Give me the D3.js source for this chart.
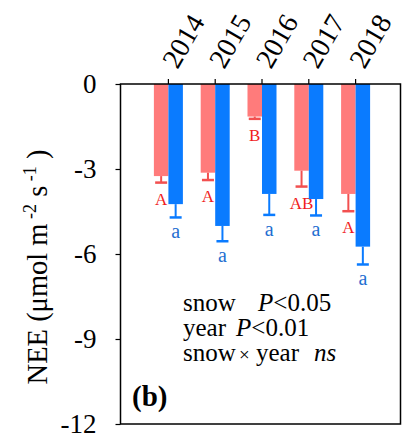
<!DOCTYPE html>
<html>
<head>
<meta charset="utf-8">
<script src="https://cdn.jsdelivr.net/npm/d3@7"></script>
<style>
  body { margin: 0; background: #fff; }
  text { font-family: "Liberation Serif", "Times New Roman", serif; }
</style>
</head>
<body>
<svg id="chart"></svg>
<script>
// data
const years = ["2014", "2015", "2016", "2017", "2018"];
const snowMean = [-3.25, -3.13, -1.15, -3.06, -3.88];
const snowErr = [0.23, 0.26, 0.08, 0.56, 0.61];
const ctrlMean = [-4.24, -5.01, -3.88, -4.06, -5.74];
const ctrlErr = [0.47, 0.54, 0.74, 0.58, 0.63];
const snowLetters = ["A", "A", "B", "AB", "A"];
const ctrlLetters = ["a", "a", "a", "a", "a"];
const yTicks = [0, -3, -6, -9, -12];

const W = 402, H = 438;
const pLeft = 120.5, pRight = 400.5, pTop = 84, pBottom = 424;

const svg = d3.select("#chart").attr("width", W).attr("height", H);

const x = d3.scaleBand().domain(years).range([145, 379]).padding(0);
const y = d3.scaleLinear().domain([-12, 0]).range([pBottom, pTop]);
const barW = 14.5;
const cx = d => x(d) + x.bandwidth() / 2;

// bars
const g = svg.append("g");
years.forEach((yr, i) => {
  const c = cx(yr);
  // snow (red)
  g.append("rect")
    .attr("x", c - barW).attr("width", barW)
    .attr("y", y(0)).attr("height", y(snowMean[i]) - y(0))
    .attr("fill", "#ff7b7b");
  g.append("line")
    .attr("x1", c - barW / 2).attr("x2", c - barW / 2)
    .attr("y1", y(snowMean[i])).attr("y2", y(snowMean[i] - snowErr[i]))
    .attr("stroke", "#f25050").attr("stroke-width", 2);
  g.append("line")
    .attr("x1", c - barW / 2 - 6).attr("x2", c - barW / 2 + 6)
    .attr("y1", y(snowMean[i] - snowErr[i])).attr("y2", y(snowMean[i] - snowErr[i]))
    .attr("stroke", "#f25050").attr("stroke-width", 2.5);
  g.append("text")
    .attr("x", c - barW / 2).attr("y", y(snowMean[i] - snowErr[i]) + 22)
    .attr("text-anchor", "middle").attr("font-size", 17)
    .attr("fill", "#f01c1c").text(snowLetters[i]);

  // control (blue)
  g.append("rect")
    .attr("x", c).attr("width", barW)
    .attr("y", y(0)).attr("height", y(ctrlMean[i]) - y(0))
    .attr("fill", "#0a7bff");
  g.append("line")
    .attr("x1", c + barW / 2).attr("x2", c + barW / 2)
    .attr("y1", y(ctrlMean[i])).attr("y2", y(ctrlMean[i] - ctrlErr[i]))
    .attr("stroke", "#0a7bff").attr("stroke-width", 2);
  g.append("line")
    .attr("x1", c + barW / 2 - 6).attr("x2", c + barW / 2 + 6)
    .attr("y1", y(ctrlMean[i] - ctrlErr[i])).attr("y2", y(ctrlMean[i] - ctrlErr[i]))
    .attr("stroke", "#0a7bff").attr("stroke-width", 2.5);
  g.append("text")
    .attr("x", c + barW / 2).attr("y", y(ctrlMean[i] - ctrlErr[i]) + 21)
    .attr("text-anchor", "middle").attr("font-size", 20)
    .attr("fill", "#1f6fd1").text(ctrlLetters[i]);
});

// frame
svg.append("rect")
  .attr("x", pLeft).attr("y", pTop)
  .attr("width", pRight - pLeft).attr("height", pBottom - pTop)
  .attr("fill", "none").attr("stroke", "#000").attr("stroke-width", 1.5);

// y axis
const yAxis = svg.append("g")
  .attr("transform", `translate(${pLeft},0)`)
  .call(d3.axisLeft(y).tickValues(yTicks).tickSize(5).tickPadding(19));
yAxis.select(".domain").remove();
yAxis.selectAll("line").attr("stroke-width", 1.2);
yAxis.selectAll("text")
  .attr("font-size", 27).attr("font-family", "Liberation Serif").attr("fill", "#000")
  .text(d => d === 0 ? "0" : "-" + Math.abs(d));

// x axis at top (ticks only, labels drawn rotated below)
const xAxis = svg.append("g")
  .attr("transform", `translate(0,${pTop})`)
  .call(d3.axisTop(x).tickSize(5).tickSizeOuter(0).tickFormat(""));
xAxis.select(".domain").remove();
xAxis.selectAll("line").attr("stroke-width", 1.2);

svg.append("g").selectAll("text")
  .data(years)
  .join("text")
  .attr("transform", d => `translate(${cx(d) + 9},${pTop - 14}) rotate(-60)`)
  .attr("font-size", 28)
  .attr("fill", "#000")
  .text(d => d);

// y label
const yl = svg.append("text")
  .attr("transform", "translate(47,267) rotate(-90)")
  .attr("text-anchor", "middle").attr("font-size", 28.5);
yl.append("tspan").text("NEE (μmol m");
yl.append("tspan").attr("font-size", 18).attr("dy", -11).text(" -2");
yl.append("tspan").attr("dy", 11).text(" s");
yl.append("tspan").attr("font-size", 18).attr("dy", -11).text(" -1");
yl.append("tspan").attr("dy", 11).text(" )");

// statistics note
const note = svg.append("g").attr("font-size", 25);
const l1 = note.append("text").attr("y", 311);
l1.append("tspan").attr("x", 183).text("snow");
l1.append("tspan").attr("x", 258).attr("font-style", "italic").text("P");
l1.append("tspan").text("<0.05");
const l2 = note.append("text").attr("y", 336);
l2.append("tspan").attr("x", 183).text("year");
l2.append("tspan").attr("x", 236).attr("font-style", "italic").text("P");
l2.append("tspan").text("<0.01");
const l3 = note.append("text").attr("y", 361);
l3.append("tspan").attr("x", 183).text("snow");
l3.append("tspan").attr("x", 239).attr("font-size", 19).text("×");
l3.append("tspan").attr("x", 256).text("year");
l3.append("tspan").attr("x", 314).attr("font-style", "italic").text("ns");

svg.append("text")
  .attr("x", 132).attr("y", 406)
  .attr("font-size", 29).attr("font-weight", "bold").text("(b)");
</script>
</body>
</html>
